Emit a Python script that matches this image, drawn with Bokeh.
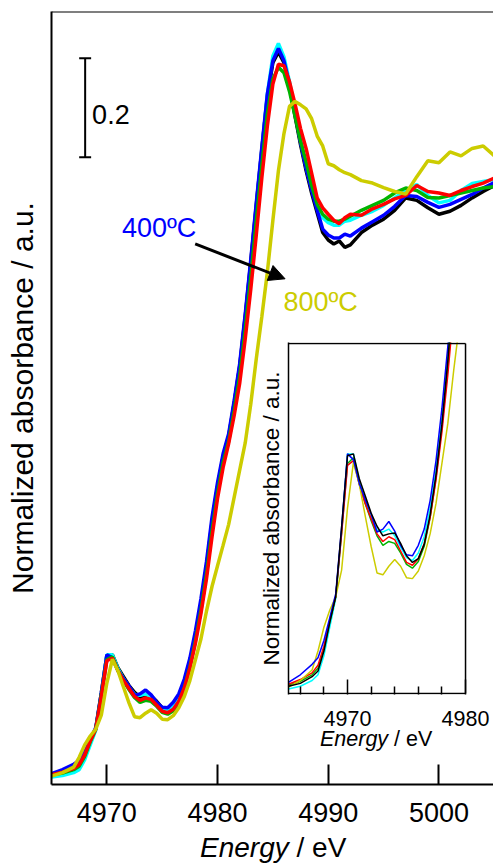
from bokeh.plotting import figure
from bokeh.models import Range1d, FixedTicker, Span, Label, Arrow, NormalHead, Div
from bokeh.layouts import column
from bokeh.embed import file_html
from bokeh.resources import INLINE

# ---------------- data (normalized absorbance vs energy / eV) ----------------
energy = [4965, 4966, 4967, 4967.5, 4968, 4968.5, 4969, 4969.5, 4970, 4970.5, 4971, 4971.5, 4972,
          4972.5, 4973, 4973.5, 4974, 4974.5, 4975, 4975.5, 4976, 4976.5,
          4977, 4977.5, 4978, 4978.5, 4979, 4979.5, 4980, 4980.5, 4981,
          4981.5, 4982, 4982.5, 4983, 4983.5, 4984, 4984.5, 4985, 4985.5,
          4986, 4986.5, 4987, 4987.5, 4988, 4988.5, 4989, 4989.5, 4990,
          4990.5, 4991, 4991.5, 4992,
          4993, 4994, 4995, 4996, 4997, 4998, 4999, 5000, 5001, 5002, 5003, 5004, 5005]

s_blue = [0.022, 0.030, 0.041, 0.048, 0.066, 0.090, 0.115, 0.185, 0.262, 0.256, 0.231, 0.214, 0.199,
          0.180, 0.183, 0.191, 0.181, 0.166, 0.156, 0.155, 0.166, 0.183,
          0.213, 0.255, 0.310, 0.375, 0.450, 0.540, 0.610, 0.668, 0.708,
          0.775, 0.850, 0.950, 1.060, 1.175, 1.287, 1.395, 1.462, 1.487,
          1.462, 1.415, 1.355, 1.297, 1.245, 1.200, 1.160, 1.122, 1.110,
          1.104, 1.104, 1.112, 1.108,
          1.124, 1.137, 1.150, 1.168, 1.190, 1.188, 1.176, 1.166, 1.172, 1.182, 1.192, 1.205, 1.216]

s_cyan = [0.015, 0.018, 0.024, 0.030, 0.050, 0.080, 0.110, 0.180, 0.262, 0.262, 0.234, 0.214, 0.197,
          0.182, 0.180, 0.183, 0.176, 0.164, 0.153, 0.150, 0.158, 0.175,
          0.205, 0.245, 0.298, 0.362, 0.435, 0.525, 0.600, 0.660, 0.700,
          0.765, 0.838, 0.935, 1.045, 1.165, 1.280, 1.395, 1.472, 1.497,
          1.470, 1.420, 1.360, 1.300, 1.248, 1.205, 1.170, 1.145, 1.135,
          1.130, 1.130, 1.138, 1.140,
          1.150, 1.158, 1.170, 1.185, 1.200, 1.212, 1.190, 1.175, 1.180, 1.200, 1.214, 1.218, 1.222]

s_black = [0.018, 0.021, 0.028, 0.034, 0.055, 0.085, 0.112, 0.185, 0.260, 0.262, 0.236, 0.218, 0.200,
           0.186, 0.176, 0.178, 0.179, 0.168, 0.155, 0.148, 0.152, 0.167,
           0.198, 0.240, 0.293, 0.360, 0.440, 0.530, 0.602, 0.662, 0.703,
           0.770, 0.845, 0.945, 1.055, 1.170, 1.283, 1.390, 1.458, 1.480,
           1.458, 1.410, 1.350, 1.292, 1.240, 1.195, 1.155, 1.115, 1.100,
           1.092, 1.098, 1.085, 1.090,
           1.115, 1.130, 1.142, 1.160, 1.185, 1.180, 1.165, 1.152, 1.158, 1.170, 1.185, 1.198, 1.210]

s_green = [0.019, 0.023, 0.030, 0.037, 0.057, 0.086, 0.112, 0.180, 0.252, 0.258, 0.230, 0.210, 0.192,
           0.176, 0.166, 0.170, 0.168, 0.158, 0.146, 0.142, 0.149, 0.165,
           0.195, 0.237, 0.290, 0.352, 0.425, 0.512, 0.588, 0.650, 0.693,
           0.755, 0.825, 0.920, 1.025, 1.140, 1.250, 1.355, 1.425, 1.449,
           1.438, 1.400, 1.350, 1.300, 1.258, 1.210, 1.172, 1.152, 1.142,
           1.138, 1.138, 1.142, 1.148,
           1.160, 1.170, 1.180, 1.195, 1.205, 1.200, 1.186, 1.185, 1.190, 1.195, 1.200, 1.205, 1.208]

s_red = [0.020, 0.025, 0.032, 0.040, 0.060, 0.088, 0.112, 0.178, 0.250, 0.255, 0.230, 0.210, 0.194,
         0.178, 0.170, 0.175, 0.172, 0.160, 0.148, 0.145, 0.152, 0.168,
         0.195, 0.235, 0.285, 0.345, 0.415, 0.500, 0.578, 0.640, 0.688,
         0.745, 0.810, 0.900, 1.000, 1.110, 1.225, 1.330, 1.415, 1.455,
         1.452, 1.420, 1.375, 1.325, 1.285, 1.235, 1.185, 1.165, 1.152,
         1.140, 1.133, 1.145, 1.152,
         1.150, 1.163, 1.172, 1.183, 1.190, 1.210, 1.198, 1.195, 1.190, 1.200, 1.208, 1.215, 1.225]

s_yellow = [0.017, 0.024, 0.035, 0.055, 0.080, 0.098, 0.112, 0.140, 0.205, 0.253, 0.230, 0.197, 0.165,
            0.137, 0.135, 0.144, 0.151, 0.144, 0.132, 0.131, 0.139, 0.155,
            0.178, 0.210, 0.252, 0.294, 0.350, 0.400, 0.442, 0.483, 0.525,
            0.580, 0.635, 0.690, 0.768, 0.860, 0.945, 1.035, 1.140, 1.240,
            1.315, 1.370, 1.380, 1.373, 1.365, 1.345, 1.310, 1.290, 1.254,
            1.250, 1.242, 1.236, 1.232,
            1.220, 1.215, 1.206, 1.198, 1.193, 1.228, 1.260, 1.256, 1.278, 1.270, 1.285, 1.290, 1.270]

main_ticks = [4970, 4980, 4990, 5000]
inset_ticks = [4970, 4980]
inset_minor_ticks = [4966, 4968, 4972, 4974, 4976, 4978]

C_BLUE, C_CYAN, C_BLACK = "#0000FF", "#00FFFF", "#000000"
C_GREEN, C_RED, C_YELLOW = "#00B400", "#FF0000", "#CCCC00"
FONT = "Liberation Sans"

main_order = [(s_black, C_BLACK), (s_cyan, C_CYAN), (s_blue, C_BLUE),
              (s_green, C_GREEN), (s_red, C_RED), (s_yellow, C_YELLOW)]
inset_order = [(s_cyan, C_CYAN), (s_green, C_GREEN), (s_red, C_RED),
               (s_yellow, C_YELLOW), (s_blue, C_BLUE), (s_black, C_BLACK)]

# ---------------- main figure ----------------
Y_TOP = 1.5616
p = figure(width=493, height=865, output_backend="svg", toolbar_location=None,
           x_range=Range1d(4965, 5004.93), y_range=Range1d(0, Y_TOP),
           min_border_left=51, min_border_right=0, min_border_top=11, min_border_bottom=81)
p.outline_line_color = None
p.grid.visible = False
p.background_fill_color = "white"
p.border_fill_color = "white"

xa = p.xaxis[0]
xa.ticker = FixedTicker(ticks=main_ticks)
xa.major_tick_in = 20
xa.major_tick_out = 0
xa.minor_tick_in = 0
xa.minor_tick_out = 0
xa.major_tick_line_width = 2
xa.major_tick_line_color = "black"
xa.axis_line_width = 2
xa.axis_line_color = "black"
xa.major_label_text_font = FONT
xa.major_label_text_font_size = "27px"
xa.major_label_text_color = "black"
xa.major_label_standoff = 18

ya = p.yaxis[0]
ya.ticker = FixedTicker(ticks=[])
ya.major_tick_in = 0
ya.major_tick_out = 0
ya.minor_tick_in = 0
ya.minor_tick_out = 0
ya.major_label_text_font_size = "0px"
ya.major_label_standoff = 0
ya.axis_line_width = 2
ya.axis_line_color = "black"
ya.axis_label = "Normalized absorbance / a.u."
ya.axis_label_text_font = FONT
ya.axis_label_text_font_size = "30px"
ya.axis_label_text_font_style = "normal"
ya.axis_label_text_color = "black"
ya.axis_label_standoff = 13

p.add_layout(Span(location=Y_TOP, dimension="width", line_color="black", line_width=2))

for ys, col in main_order:
    p.line(energy, ys, line_color=col, line_width=3.5)

# scale bar (0.2 units)
SB_X, SB_Y0, SB_Y1 = 4968.04, 1.2673, 1.4673
SB_C0, SB_C1 = 4967.5, 4968.58
p.segment(x0=[SB_X, SB_C0, SB_C0], y0=[SB_Y0, SB_Y0, SB_Y1],
          x1=[SB_X, SB_C1, SB_C1], y1=[SB_Y1, SB_Y0, SB_Y1],
          line_color="black", line_width=2)
p.add_layout(Label(x=4968.67, y=1.3535, text="0.2", text_font=FONT, text_font_size="27px",
                   text_color="black", text_align="left", text_baseline="middle"))

p.add_layout(Label(x=4971.36, y=1.124, text="400ºC", text_font=FONT, text_font_size="27px",
                   text_color=C_BLUE, text_align="left", text_baseline="middle"))
p.add_layout(Label(x=4985.95, y=0.974, text="800ºC", text_font=FONT, text_font_size="27px",
                   text_color=C_YELLOW, text_align="left", text_baseline="middle"))
p.add_layout(Arrow(end=NormalHead(size=16, fill_color="black", line_color="black"),
                   x_start=4977.98, y_start=1.092, x_end=4986.1, y_end=1.0216,
                   line_color="black", line_width=3))

# ---------------- inset figure ----------------
IN_X0, IN_X1 = 4965, 4980          # inset box (energy)
IN_Y0, IN_Y1 = 0.0103, 0.378       # inset box (absorbance)
n_in = energy.index(IN_X1) + 1     # inset shows the pre-edge part only

q = figure(width=256, height=406, output_backend="svg", toolbar_location=None,
           x_range=Range1d(IN_X0, 4982.37), y_range=Range1d(0.0093, 0.379),
           min_border_left=51, min_border_right=0, min_border_top=4, min_border_bottom=50)
q.grid.visible = False
q.outline_line_color = None
q.background_fill_alpha = 0
q.border_fill_alpha = 0

qx = q.xaxis[0]
qx.ticker = FixedTicker(ticks=inset_ticks, minor_ticks=inset_minor_ticks)
qx.major_tick_in = 15
qx.major_tick_out = 0
qx.minor_tick_in = 8
qx.minor_tick_out = 0
qx.major_tick_line_width = 1.5
qx.minor_tick_line_width = 1.5
qx.major_tick_line_color = "black"
qx.minor_tick_line_color = "black"
qx.axis_line_color = None
qx.major_label_text_font = FONT
qx.major_label_text_font_size = "21.5px"
qx.major_label_text_color = "black"
qx.major_label_standoff = 16

qy = q.yaxis[0]
qy.ticker = FixedTicker(ticks=[])
qy.major_tick_in = 0
qy.major_tick_out = 0
qy.minor_tick_in = 0
qy.minor_tick_out = 0
qy.major_label_text_font_size = "0px"
qy.major_label_standoff = 0
qy.axis_line_width = 1.5
qy.axis_line_color = "black"
qy.axis_label = "Normalized absorbance / a.u."
qy.axis_label_text_font = FONT
qy.axis_label_text_font_size = "22.5px"
qy.axis_label_text_font_style = "normal"
qy.axis_label_text_color = "black"
qy.axis_label_standoff = 5

for ys, col in inset_order:
    q.line(energy[:n_in], ys[:n_in], line_color=col, line_width=1.5)

# inset box: bottom, top and right edges
q.segment(x0=[IN_X0, IN_X0, IN_X1], y0=[IN_Y0, IN_Y1, IN_Y0],
          x1=[IN_X1, IN_X1, IN_X1], y1=[IN_Y0, IN_Y1, IN_Y1],
          line_color="black", line_width=1.5)

# overlay the inset onto the main figure (flow layout with negative margins)
q.margin = (-527, 0, 0, 237)

TXT = ("<div style=\"margin:0;padding:0;font-family:'Liberation Sans';font-size:{fs}px;"
       "line-height:{lh}px;color:black;white-space:nowrap;\">"
       "<i>Energy</i> / eV</div>")

div_inset = Div(text=TXT.format(fs=21.5, lh=25), width=150, height=25,
                margin=(-17, 0, 0, 320))
div_main = Div(text=TXT.format(fs=28, lh=24), width=200, height=24,
               margin=(84, 0, 0, 200))

layout = column(p, q, div_inset, div_main, spacing=0)
open("out.html", "w").write(file_html(layout, INLINE))
